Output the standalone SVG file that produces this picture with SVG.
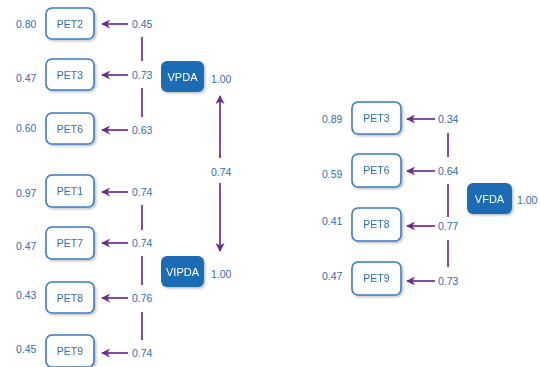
<svg xmlns="http://www.w3.org/2000/svg" width="540" height="367" viewBox="0 0 540 367">
<style>
.t{font-family:"Liberation Sans",Arial,sans-serif;font-size:10.5px;fill:#2f6db5;dominant-baseline:central}
.box{fill:#fff;stroke:#3b7cc4;stroke-width:1.6}
.lat{fill:#1c6cb5;stroke:none}
.lt{font-family:"Liberation Sans",Arial,sans-serif;font-size:11px;fill:#fff;text-anchor:middle;dominant-baseline:central}
.bt{font-family:"Liberation Sans",Arial,sans-serif;font-size:10.5px;fill:#2f6db5;text-anchor:middle;dominant-baseline:central}
.c{stroke:#6b2c91;stroke-width:1.7;fill:none}
</style>
<defs>
<marker id="ah" viewBox="0 0 10 10" refX="9" refY="5" markerWidth="10" markerHeight="9" markerUnits="userSpaceOnUse" orient="auto-start-reverse">
<path d="M0,0 L10,5 L0,10 L3,5 z" fill="#6b2c91"/>
</marker>
<filter id="sh" x="-20%" y="-20%" width="150%" height="150%">
<feDropShadow dx="1.5" dy="1.5" stdDeviation="1.2" flood-color="#000" flood-opacity="0.25"/>
</filter>
</defs>
<g id="connectors">
<line class="c" x1="128" y1="24" x2="102" y2="24" marker-end="url(#ah)"/>
<line class="c" x1="128" y1="75" x2="102" y2="75" marker-end="url(#ah)"/>
<line class="c" x1="128" y1="130" x2="102" y2="130" marker-end="url(#ah)"/>
<line class="c" x1="142" y1="37" x2="142" y2="61"/>
<line class="c" x1="142" y1="88" x2="142" y2="117"/>
<line class="c" x1="220" y1="158" x2="220" y2="96" marker-end="url(#ah)"/>
<line class="c" x1="220" y1="183" x2="220" y2="251" marker-end="url(#ah)"/>
<line class="c" x1="128" y1="192" x2="102" y2="192" marker-end="url(#ah)"/>
<line class="c" x1="128" y1="243" x2="102" y2="243" marker-end="url(#ah)"/>
<line class="c" x1="128" y1="298" x2="102" y2="298" marker-end="url(#ah)"/>
<line class="c" x1="128" y1="353" x2="102" y2="353" marker-end="url(#ah)"/>
<line class="c" x1="142" y1="205" x2="142" y2="230"/>
<line class="c" x1="142" y1="256" x2="142" y2="285"/>
<line class="c" x1="142" y1="312" x2="142" y2="340"/>
<line class="c" x1="435" y1="119" x2="407" y2="119" marker-end="url(#ah)"/>
<line class="c" x1="435" y1="171" x2="407" y2="171" marker-end="url(#ah)"/>
<line class="c" x1="435" y1="226" x2="407" y2="226" marker-end="url(#ah)"/>
<line class="c" x1="435" y1="281" x2="407" y2="281" marker-end="url(#ah)"/>
<line class="c" x1="448" y1="133" x2="448" y2="157"/>
<line class="c" x1="448" y1="184" x2="448" y2="217"/>
<line class="c" x1="448" y1="240" x2="448" y2="267"/>
</g>
<g id="labels">
<text class="t" x="132" y="24">0.45</text>
<text class="t" x="132" y="75">0.73</text>
<text class="t" x="132" y="130">0.63</text>
<text class="t" x="132" y="192">0.74</text>
<text class="t" x="132" y="243">0.74</text>
<text class="t" x="132" y="298">0.76</text>
<text class="t" x="132" y="353">0.74</text>
<text class="t" x="211" y="172">0.74</text>
<text class="t" x="438" y="119">0.34</text>
<text class="t" x="438" y="171">0.64</text>
<text class="t" x="438" y="226">0.77</text>
<text class="t" x="438" y="281">0.73</text>
</g>
<g id="PET2_a" filter="url(#sh)"><rect class="box" x="46" y="8" width="48" height="31" rx="6"/><text class="bt" x="70" y="23.5">PET2</text></g>
<text class="t" x="16" y="24">0.80</text>
<g id="PET3_a" filter="url(#sh)"><rect class="box" x="46" y="59" width="48" height="31" rx="6"/><text class="bt" x="70" y="74.5">PET3</text></g>
<text class="t" x="16" y="78">0.47</text>
<g id="PET6_a" filter="url(#sh)"><rect class="box" x="46" y="113" width="48" height="31" rx="6"/><text class="bt" x="70" y="128.5">PET6</text></g>
<text class="t" x="16" y="128">0.60</text>
<g id="VPDA" filter="url(#sh)"><rect class="lat" x="161" y="61" width="43" height="31" rx="6"/><text class="lt" x="182.5" y="76.5">VPDA</text></g>
<text class="t" x="211" y="79">1.00</text>
<g id="PET1_b" filter="url(#sh)"><rect class="box" x="46" y="175" width="48" height="32" rx="6"/><text class="bt" x="70" y="191">PET1</text></g>
<text class="t" x="16" y="193">0.97</text>
<g id="PET7_b" filter="url(#sh)"><rect class="box" x="46" y="227" width="48" height="32" rx="6"/><text class="bt" x="70" y="243">PET7</text></g>
<text class="t" x="16" y="246">0.47</text>
<g id="PET8_b" filter="url(#sh)"><rect class="box" x="46" y="282" width="48" height="31" rx="6"/><text class="bt" x="70" y="297.5">PET8</text></g>
<text class="t" x="16" y="295">0.43</text>
<g id="PET9_b" filter="url(#sh)"><rect class="box" x="46" y="335" width="48" height="32" rx="6"/><text class="bt" x="70" y="351">PET9</text></g>
<text class="t" x="16" y="349">0.45</text>
<g id="VIPDA" filter="url(#sh)"><rect class="lat" x="161" y="256" width="43" height="31" rx="6"/><text class="lt" x="182.5" y="271.5">VIPDA</text></g>
<text class="t" x="211" y="274">1.00</text>
<g id="PET3_c" filter="url(#sh)"><rect class="box" x="352" y="102" width="49" height="32" rx="6"/><text class="bt" x="376.5" y="118">PET3</text></g>
<text class="t" x="322" y="119">0.89</text>
<g id="PET6_c" filter="url(#sh)"><rect class="box" x="352" y="154" width="49" height="33" rx="6"/><text class="bt" x="376.5" y="170">PET6</text></g>
<text class="t" x="322" y="174">0.59</text>
<g id="PET8_c" filter="url(#sh)"><rect class="box" x="352" y="208" width="49" height="33" rx="6"/><text class="bt" x="376.5" y="224">PET8</text></g>
<text class="t" x="322" y="221">0.41</text>
<g id="PET9_c" filter="url(#sh)"><rect class="box" x="352" y="262" width="49" height="33" rx="6"/><text class="bt" x="376.5" y="278">PET9</text></g>
<text class="t" x="322" y="276">0.47</text>
<g id="VFDA" filter="url(#sh)"><rect class="lat" x="467" y="183" width="45" height="31" rx="6"/><text class="lt" x="489.5" y="198.5">VFDA</text></g>
<text class="t" x="517" y="200">1.00</text>
</svg>
